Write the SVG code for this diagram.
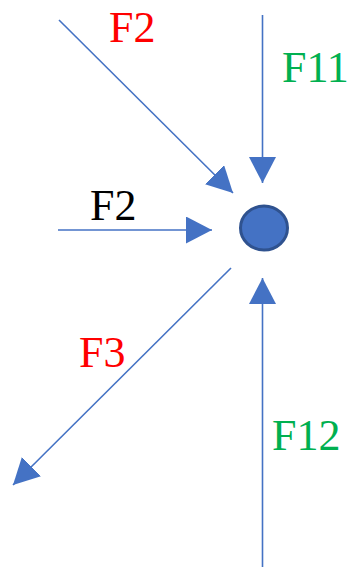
<svg xmlns="http://www.w3.org/2000/svg" width="349" height="567" viewBox="0 0 349 567">
<style>
.c{stroke:#4472C4;stroke-width:1.6;fill:none;marker-end:url(#ah)}
.t{font-family:"Liberation Serif","Times New Roman",serif;font-size:44px}
</style>
<defs>
<marker id="ah" markerUnits="userSpaceOnUse" markerWidth="27" markerHeight="27" refX="26" refY="13.5" orient="auto">
<path d="M0,0 L26,13.5 L0,27 z" fill="#4472C4"/>
</marker>
</defs>
<rect width="349" height="567" fill="#fff"/>
<g id="connectors">
<line class="c" x1="59" y1="20" x2="233" y2="193"/>
<line class="c" x1="262.5" y1="15" x2="262.5" y2="183"/>
<line class="c" x1="58" y1="230" x2="212" y2="230"/>
<line class="c" x1="231" y1="268" x2="13" y2="485"/>
<line class="c" x1="262.5" y1="567" x2="262.5" y2="278"/>
</g>
<g id="node">
<ellipse cx="264" cy="228" rx="23.5" ry="22" fill="#4472C4" stroke="#2F528F" stroke-width="3"/>
</g>
<g id="labels">
<text class="t" x="109" y="42" fill="#FF0000">F2</text>
<text class="t" x="282" y="82" fill="#00B050">F11</text>
<text class="t" x="90" y="220" fill="#000000">F2</text>
<text class="t" x="79" y="367" fill="#FF0000">F3</text>
<text class="t" x="272" y="450" fill="#00B050">F12</text>
</g>
</svg>
